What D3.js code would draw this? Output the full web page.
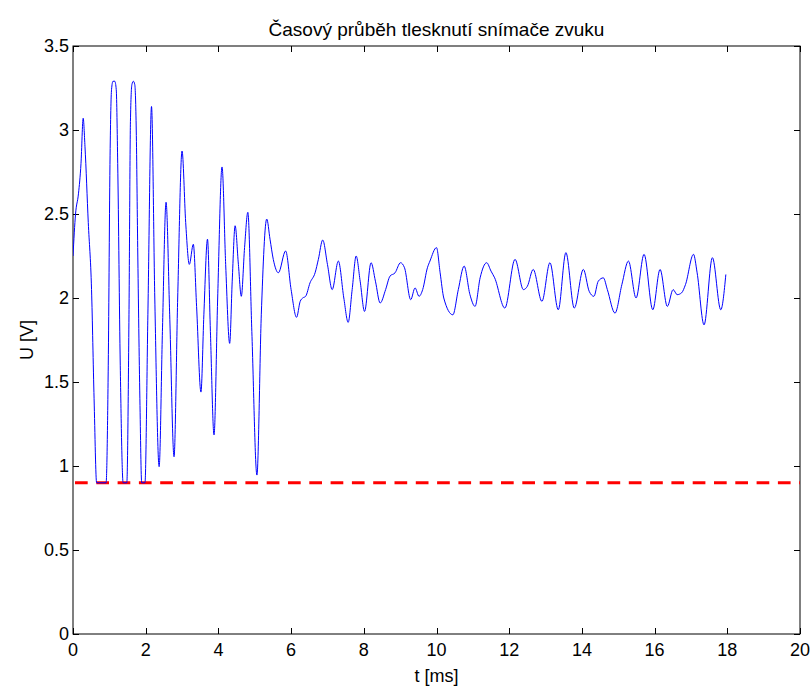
<!DOCTYPE html>
<html>
<head>
<meta charset="utf-8">
<script src="https://cdn.jsdelivr.net/npm/d3@7"></script>
<style>
  html, body { margin: 0; padding: 0; background: #fff; }
  svg { display: block; }
  text { font-family: "Liberation Sans", Arial, sans-serif; fill: #000; }
</style>
</head>
<body>
<svg id="chart" width="812" height="686"></svg>
<script>
const titleText = "Časový průběh tlesknutí snímače zvuku";
const xLabel = "t [ms]";
const yLabel = "U [V]";
const xTicks = [0, 2, 4, 6, 8, 10, 12, 14, 16, 18, 20];
const yTicks = [0, 0.5, 1, 1.5, 2, 2.5, 3, 3.5];
const thresholdLevel = 0.9;

const timeMs = [
  0, 0.07, 0.15, 0.22, 0.28, 0.33, 0.42, 0.51, 0.58, 0.65,
  0.91, 0.97, 1.02, 1.06, 1.10, 1.15, 1.19, 1.23, 1.30, 1.38,
  1.48, 1.54, 1.58, 1.62, 1.66, 1.70, 1.74, 1.78, 1.84, 1.89,
  1.98, 2.06, 2.16, 2.25, 2.37,
  2.46, 2.56, 2.66, 2.78, 2.88, 3.00, 3.10, 3.20, 3.31, 3.40,
  3.52, 3.60, 3.70, 3.78, 3.88, 3.98, 4.10, 4.20, 4.31, 4.38,
  4.46, 4.55, 4.63, 4.72, 4.81, 4.92, 5.06, 5.18, 5.33, 5.42,
  5.51, 5.65, 5.85, 6.00, 6.15, 6.25, 6.32, 6.40, 6.52, 6.66,
  6.75, 6.87, 7.00, 7.13, 7.30, 7.45, 7.57, 7.68, 7.79, 7.90,
  8.02, 8.20, 8.32, 8.45, 8.60, 8.72, 8.86, 9.01, 9.12, 9.29,
  9.41, 9.52, 9.62, 9.75, 9.82, 10.00, 10.10, 10.20, 10.45, 10.60,
  10.76, 10.92, 11.06, 11.20, 11.38, 11.50, 11.60, 11.88, 12.16, 12.39,
  12.50, 12.66, 12.90, 13.12, 13.35, 13.56, 13.79, 14.04, 14.20, 14.33,
  14.45, 14.59, 14.70, 14.91, 15.10, 15.28, 15.49, 15.71, 15.95, 16.15,
  16.35, 16.51, 16.62, 16.74, 16.85, 17.07, 17.17, 17.36, 17.59, 17.82,
  17.96
];
const voltage = [
  2.25, 2.50, 2.62, 2.80, 3.07, 2.90, 2.45, 2.05, 1.40, 0.90,
  0.90, 1.60, 2.85, 3.24, 3.29, 3.29, 3.24, 2.80, 1.60, 0.90,
  0.90, 1.90, 3.05, 3.27, 3.29, 3.27, 3.00, 2.30, 1.40, 0.90,
  0.90, 1.90, 3.14, 2.00, 0.996,
  1.80, 2.57, 1.90, 1.055, 2.00, 2.875, 2.45, 2.20, 2.32, 1.95,
  1.44, 1.90, 2.35, 1.80, 1.185, 2.00, 2.78, 2.20, 1.73, 2.10,
  2.43, 2.20, 2.01, 2.30, 2.51, 1.80, 0.946, 1.90, 2.47, 2.35,
  2.23, 2.15, 2.28, 2.05, 1.885, 1.98, 2.00, 2.01, 2.09, 2.15,
  2.23, 2.345, 2.20, 2.05, 2.22, 2.00, 1.855, 2.05, 2.25, 2.10,
  1.92, 2.21, 2.10, 1.97, 2.05, 2.13, 2.15, 2.21, 2.18, 1.99,
  2.06, 2.01, 2.05, 2.18, 2.22, 2.30, 2.15, 2.00, 1.90, 2.05,
  2.19, 2.02, 1.95, 2.12, 2.21, 2.16, 2.12, 1.94, 2.23, 2.05,
  2.07, 2.17, 1.98, 2.21, 1.93, 2.27, 1.94, 2.17, 2.04, 2.01,
  2.10, 2.12, 2.05, 1.91, 2.08, 2.22, 2.00, 2.26, 1.93, 2.17,
  1.95, 2.05, 2.02, 2.03, 2.08, 2.26, 2.15, 1.84, 2.24, 1.93,
  2.14
];

const svg = d3.select("#chart");
const m = { left: 73, right: 800, top: 46, bottom: 634 };
const x = d3.scaleLinear().domain([0, 20]).range([m.left, m.right]);
const y = d3.scaleLinear().domain([0, 3.5]).range([m.bottom, m.top]);
const tickLen = 6;
const tickFont = 18;
const labelFont = 18;
const titleFont = 19;

// box
svg.append("rect")
  .attr("x", m.left).attr("y", m.top)
  .attr("width", m.right - m.left).attr("height", m.bottom - m.top)
  .attr("fill", "#fff").attr("stroke", "#000").attr("stroke-width", 1);

// ticks (inward, all four sides)
const tg = svg.append("g").attr("stroke", "#000").attr("stroke-width", 1);
xTicks.forEach(t => {
  const px = Math.round(x(t)) + 0.5;
  tg.append("line").attr("x1", px).attr("x2", px).attr("y1", m.bottom).attr("y2", m.bottom - tickLen);
  tg.append("line").attr("x1", px).attr("x2", px).attr("y1", m.top).attr("y2", m.top + tickLen);
});
yTicks.forEach(v => {
  const py = Math.round(y(v)) + 0.5;
  tg.append("line").attr("x1", m.left).attr("x2", m.left + tickLen).attr("y1", py).attr("y2", py);
  tg.append("line").attr("x1", m.right).attr("x2", m.right - tickLen).attr("y1", py).attr("y2", py);
});

// tick labels
svg.append("g").selectAll("text").data(xTicks).join("text")
  .attr("x", d => x(d)).attr("y", m.bottom + 22)
  .attr("text-anchor", "middle").attr("font-size", tickFont)
  .text(d => d);
svg.append("g").selectAll("text").data(yTicks).join("text")
  .attr("x", m.left - 4).attr("y", d => y(d)).attr("dy", "0.35em")
  .attr("text-anchor", "end").attr("font-size", tickFont)
  .text(d => d);

// clip
svg.append("clipPath").attr("id", "plotclip").append("rect")
  .attr("x", m.left).attr("y", m.top)
  .attr("width", m.right - m.left).attr("height", m.bottom - m.top);

// threshold line
svg.append("line")
  .attr("x1", x(0) + 2).attr("x2", x(20))
  .attr("y1", y(thresholdLevel)).attr("y2", y(thresholdLevel))
  .attr("stroke", "#ff0000").attr("stroke-width", 3)
  .attr("stroke-dasharray", "12.7,8.6");

// signal
const pts = timeMs.map((t, i) => [t, voltage[i]]);
const line = d3.line().x(d => x(d[0])).y(d => y(d[1])).curve(d3.curveMonotoneX);
svg.append("path").datum(pts)
  .attr("clip-path", "url(#plotclip)")
  .attr("d", line).attr("fill", "none")
  .attr("stroke", "#0000ff").attr("stroke-width", 1);

// title & labels
svg.append("text").attr("x", (m.left + m.right) / 2).attr("y", 36)
  .attr("text-anchor", "middle").attr("font-size", titleFont).text(titleText);
svg.append("text").attr("x", (m.left + m.right) / 2).attr("y", 682)
  .attr("text-anchor", "middle").attr("font-size", labelFont).text(xLabel);
svg.append("text").attr("transform", `translate(33,${(m.top + m.bottom) / 2}) rotate(-90)`)
  .attr("text-anchor", "middle").attr("font-size", labelFont).text(yLabel);
</script>
</body>
</html>
